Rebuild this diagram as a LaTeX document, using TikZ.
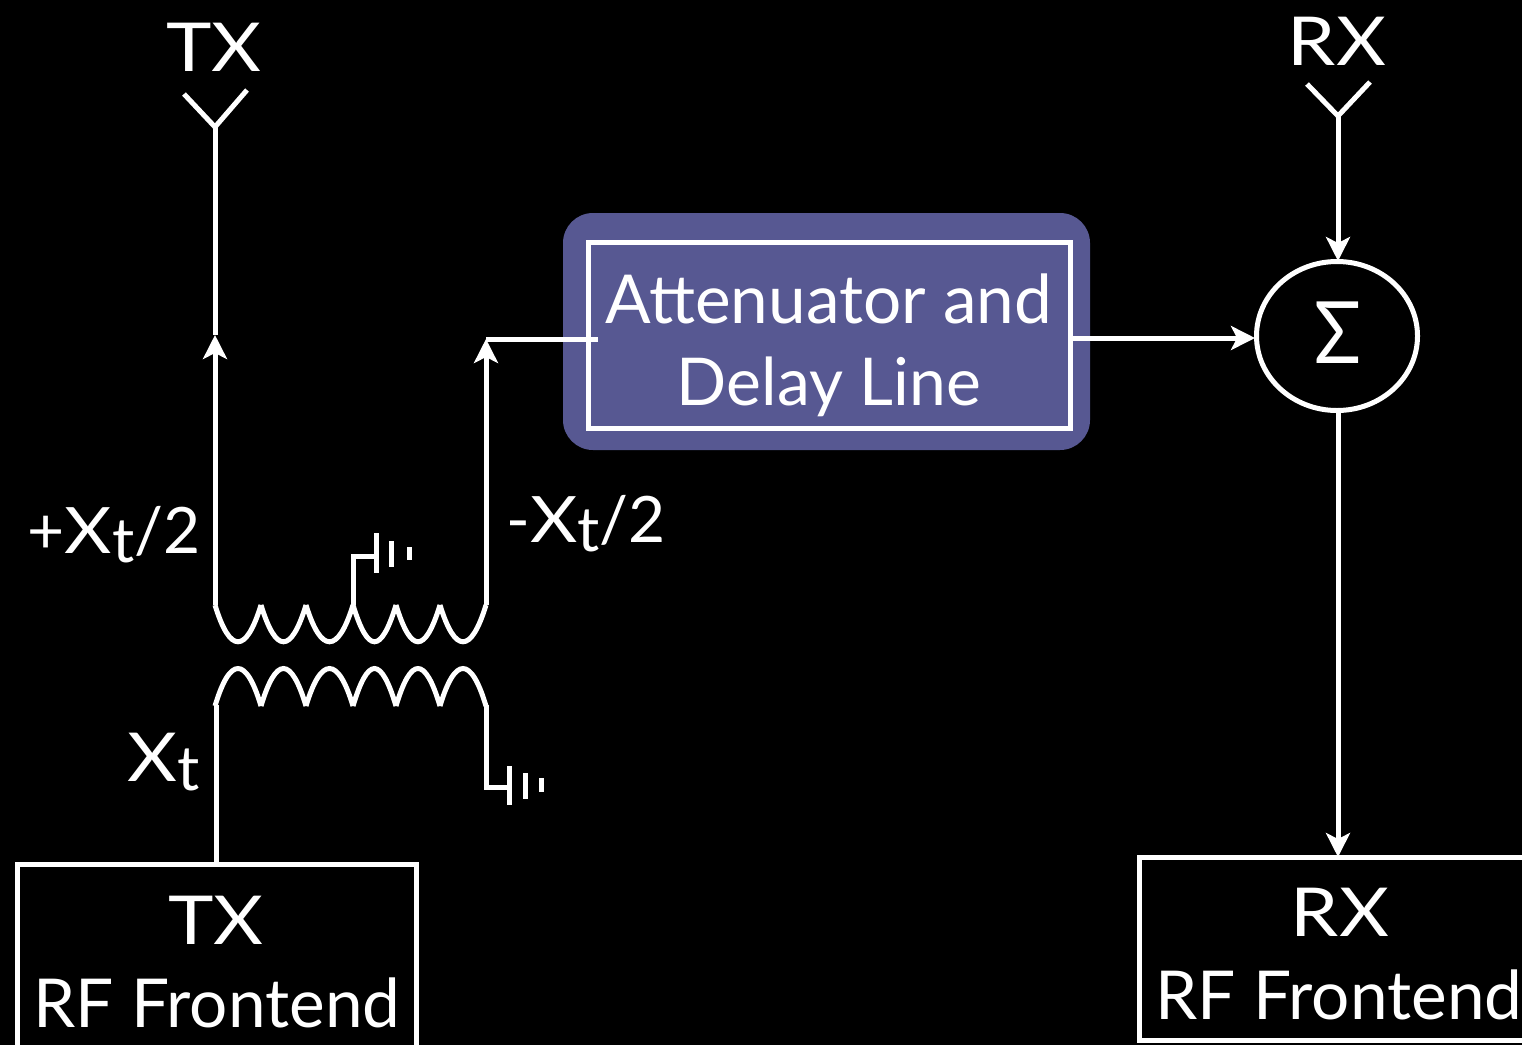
\documentclass[tikz,border=0pt]{standalone}
\usepackage{fontspec}
\usepackage{graphicx}
\setmainfont{Lato}
\usetikzlibrary{arrows.meta,shapes.geometric}
\definecolor{panel}{HTML}{575892}
\newcommand{\sbt}{\raisebox{-9pt}{\fontsize{62}{66}\selectfont t}}
\newcommand{\wide}[1]{\scalebox{1.14}[1]{#1}}
\tikzset{
  x=1pt,y=-1pt,
  wire/.style={draw=white,line width=5pt,line join=miter},
  arrowed/.style={wire,-{Stealth[length=24pt,width=24pt,inset=6pt]}},
  groundbar/.style={draw=white,line width=5pt},
  lbl/.style={text=white,inner sep=0pt,anchor=base,font=\fontsize{67.5}{72}\selectfont},
  small lbl/.style={lbl,font=\fontsize{64}{68}\selectfont},
  framebox/.style={draw=white,line width=5pt,inner sep=0pt,outer sep=0pt,anchor=north west},
}
\begin{document}
\begin{tikzpicture}
\useasboundingbox (0,0) rectangle (1522,1045);
\clip (0,0) rectangle (1522,1045);
\fill[black] (0,0) rectangle (1522,1045);
% panel and boxes
\node[fill=panel,rounded corners=30pt,inner sep=0pt,outer sep=0pt,anchor=north west,minimum width=527pt,minimum height=237pt] (panel) at (563,213) {};
\node[framebox,minimum width=482pt,minimum height=186pt] (delay) at (588,242) {};
\node[framebox,minimum width=399pt,minimum height=210pt] (txfe) at (17,864) {};
\node[framebox,minimum width=420pt,minimum height=183pt] (rxfe) at (1139,857) {};
\node[draw=white,line width=5pt,ellipse,minimum width=161pt,minimum height=149pt,inner sep=0pt,outer sep=2pt] (sum) at (1337,336) {};
% text
\node[lbl] (tx) at (214,71) {\wide{TX}};
\node[lbl] (rx) at (1337,65) {\wide{RX}};
\node[lbl] (att) at (829,323) {Attenuator and};
\node[small lbl,font=\fontsize{66}{70}\selectfont] (dl) at (829,405) {Delay Line};
\node[lbl,font=\fontsize{86}{90}\selectfont] (sig) at (1338,363) {\scalebox{0.9}[1]{Σ}};
\node[lbl] (txa) at (216,944) {\wide{TX}};
\node[lbl] (txb) at (217,1027) {RF Frontend};
\node[lbl] (rxa) at (1340,936) {\wide{RX}};
\node[lbl] (rxb) at (1339,1019) {RF Frontend};
\node[small lbl] (plus) at (114,553) {+\wide{X}\sbt/2};
\node[small lbl] (minus) at (586,542) {-\wide{X}\sbt/2};
\node[lbl] (xt) at (164,781) {\wide{X}\sbt};
% named points
\coordinate (txap) at (215,127);
\coordinate (txl) at (184,94);
\coordinate (txr) at (247,90);
\coordinate (rxap) at (1338,116);
\coordinate (rxl) at (1307,84);
\coordinate (rxr) at (1370,82);
\coordinate (u0) at (215,605);
\coordinate (u3) at (353,605);
\coordinate (u6) at (486,605);
\coordinate (l0) at (216,705);
\coordinate (l6) at (486,705);
\coordinate (txtop) at (215,335);
\coordinate (jn) at (486,339);
\coordinate (delayin) at (598,339);
\coordinate (delayout) at (1070,338);
\coordinate (sumin) at (1255,338);
\coordinate (sumtop) at (1338,261);
\coordinate (sumbot) at (1338,411);
% antennas
\draw[wire] (txl) -- (txap) -- (txr);
\draw[wire] (rxl) -- (rxap) -- (rxr);
\draw[wire] (txap) -- (txtop);
\draw[arrowed] (u0) -- (txtop);
\draw[arrowed] (u6) -- (jn);
\draw[wire] (delayin) -- (jn);
\draw[arrowed] (delayout) -- (sumin);
\draw[arrowed] (rxap) -- (sumtop);
\draw[arrowed] (sumbot) -- (rxfe.north -| sumbot);
\draw[wire] (l0) -- (txfe.north -| l0);
% coils
\foreach \a/\b in {215/261,261/306,306/353,353/396,396/440,440/486}{
  \draw[wire] (\a,605) .. controls (\a+15,654) and (\b-15,654) .. (\b,605);
  \draw[wire] (\a,706) .. controls (\a+15,656) and (\b-15,656) .. (\b,706);
}
% grounds
\draw[wire] (u3) -- (353,556) -- (376,556);
\draw[groundbar] (376,533) -- (376,573);
\draw[groundbar] (391,541) -- (391,567);
\draw[groundbar] (409,547) -- (409,560);
\draw[wire] (l6) -- (486,787) -- (509,787);
\draw[groundbar] (509,766) -- (509,805);
\draw[groundbar] (525,773) -- (525,799);
\draw[groundbar] (541,778) -- (541,792);
\end{tikzpicture}
\end{document}
